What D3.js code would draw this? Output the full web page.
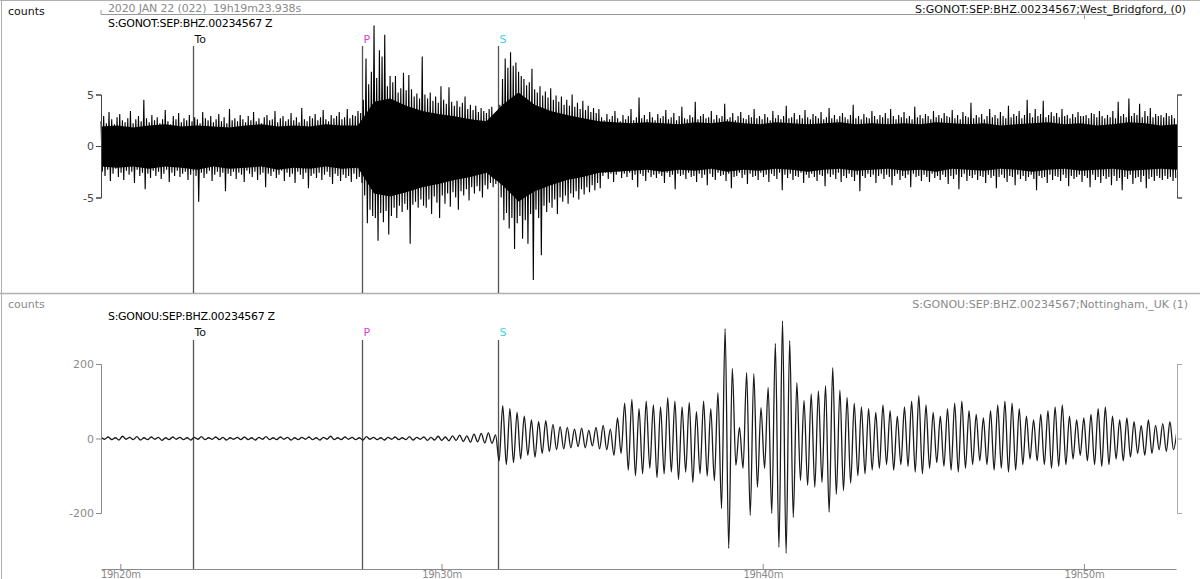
<!DOCTYPE html>
<html><head><meta charset="utf-8">
<script src="https://cdn.jsdelivr.net/npm/d3@7"></script>
<style>
body{margin:0;background:#fff}
svg{display:block;font-family:"DejaVu Sans",sans-serif}
text{white-space:pre}
</style>
</head><body>
<svg id="c" width="1200" height="579"></svg>
<script>
// ---------- data ----------
const startTime = "2020-01-22T19:19:23.938Z";
const endTime   = "2020-01-22T19:52:51.938Z";
const headerDate = "2020 JAN 22 (022)  19h19m23.938s";
const stations = ["S:GONOT:SEP:BHZ.00234567 Z", "S:GONOU:SEP:BHZ.00234567 Z"];
const stationInfo = ["S:GONOT:SEP:BHZ.00234567;West_Bridgford, (0)", "S:GONOU:SEP:BHZ.00234567;Nottingham,_UK (1)"];
const unitLabel = "counts";
const phaseNames = ["To", "P", "S"];
const phaseColors = ["#111", "#e03ce0", "#3cd2e6"];
const phaseTimes = ["2020-01-22T19:22:15.000Z", "2020-01-22T19:27:31.000Z", "2020-01-22T19:31:45.000Z"];
const headerTickTime = "2020-01-22T19:50:00.000Z";
const topTicks = [-5, 0, 5];
const bottomTicks = [-200, 0, 200];

// top trace (GONOT): max / min of each 5 s window
const topStep = 5;
const topHigh = [
2.4,2.9,2.2,3.3,2.6,2.1,2.8,3.1,2.5,2.3, 2.7,3.4,2.2,2.6,2.9,2.4,4.5,2.7,2.3,3.0,
2.5,2.8,2.2,2.6,3.5,2.4,2.1,2.9,2.6,3.2, 2.3,2.7,2.5,3.0,2.4,2.8,2.6,2.2,3.3,2.7,
2.5,2.9,2.3,2.6,3.1,2.4,2.8,2.2,3.6,2.5, 2.7,2.4,3.0,2.6,2.3,2.9,2.5,3.3,2.4,2.7,
2.2,2.8,3.0,2.5,2.6,3.4,2.3,2.7,2.9,2.4, 2.6,3.2,2.5,2.8,2.3,3.7,2.6,2.4,2.9,2.7,
3.1,2.5,2.8,3.5,2.6,2.4,3.0,2.7,2.9,3.3, 2.6,2.8,3.6,2.7,3.0,2.9,3.4,3.2,
4.5,8.5,6.0,7.2,11.7,6.6,9.3,8.7,10.8,5.8, 6.8,6.2,6.8,5.2,5.6,7.1,5.4,6.9,5.5,4.8, 5.1,4.6,8.7,
5.0,4.6,5.2,4.4,4.8,4.2,5.8,4.5,4.1,5.7, 4.3,3.9,4.4,3.8,4.2,4.8,3.6,4.0,3.5,3.9, 3.3,3.7,3.4,3.2,3.6,3.8,3.1,
3.2,4.0,6.5,8.5,7.6,9.1,7.8,8.1,7.2,6.8, 6.5,5.9,6.2,7.5,5.5,5.2,5.8,4.9,5.3,4.7,
5.6,4.5,4.9,4.3,4.8,4.0,4.5,3.9,5.0,3.8, 4.2,3.6,4.4,3.5,3.9,3.3,3.7,3.2,3.6,
2.8,2.5,3.1,2.6,2.9,3.4,2.7,2.4,3.0,2.6, 2.9,3.6,2.5,2.8,4.7,2.7,3.0,2.6,3.3,2.8,
2.5,3.1,2.7,2.9,3.5,2.6,2.8,3.2,2.5,2.9, 3.8,2.7,2.6,3.0,2.8,4.3,2.6,2.9,3.1,2.7,
2.8,3.4,2.6,3.0,2.7,2.9,4.1,2.6,2.8,3.2, 2.5,2.9,3.3,2.7,2.6,3.0,2.8,3.6,2.7,2.9,
2.6,3.1,2.8,2.5,3.4,2.7,3.0,2.6,2.9,3.9, 2.7,2.8,3.2,2.6,3.0,2.7,3.5,2.8,2.6,3.1,
2.9,2.7,3.3,2.6,2.8,3.7,2.7,3.0,2.6,2.9, 3.2,2.8,2.6,3.0,4.0,2.7,2.9,2.6,3.1,2.8,
2.7,3.4,2.9,2.6,3.0,2.8,3.2,2.7,3.6,2.9, 2.6,3.0,2.8,3.3,2.7,2.9,2.6,3.8,2.8,3.0,
2.7,3.1,2.9,2.6,3.4,2.8,3.0,2.7,3.2,2.9, 2.8,3.5,2.7,3.0,2.6,3.3,2.9,2.8,4.2,2.7,
3.0,2.8,3.1,2.6,2.9,3.6,2.8,3.0,2.7,3.3, 2.9,2.7,3.9,2.8,3.1,2.9,3.4,2.7,3.0,4.5,
3.2,2.8,3.6,2.9,3.1,4.4,2.8,3.0,3.3,2.9, 3.2,2.8,3.6,2.9,3.0,2.7,3.1,2.8,3.3,2.9,
2.9,3.0,2.7,3.2,3.1,2.8,3.4,2.9,2.7,3.0, 2.8,3.4,2.7,4.3,2.9,3.1,2.8,4.6,2.9,3.2,
3.0,4.1,2.8,3.4,2.9,3.7,2.8,3.1,2.9,3.0, 2.8,3.2,2.9,3.0,2.7];
const topLow = [
-2.5,-2.9,-2.3,-3.4,-2.7,-2.2,-3.0,-2.6,-3.3,-2.4, -2.8,-2.5,-3.6,-2.3,-2.9,-2.6,-4.2,-2.7,-3.1,-2.4,
-2.9,-2.5,-3.2,-2.7,-2.3,-3.5,-2.6,-2.9,-2.4,-3.0, -2.7,-2.5,-3.3,-2.8,-2.4,-2.9,-5.4,-2.6,-3.1,-2.7,
-2.4,-3.4,-2.8,-2.5,-3.0,-2.6,-4.4,-2.7,-2.9,-2.5, -3.2,-2.6,-2.8,-3.5,-2.4,-2.7,-3.0,-2.5,-3.3,-2.8,
-2.6,-4.0,-2.7,-2.9,-2.5,-3.1,-2.8,-2.4,-3.4,-2.6, -3.0,-2.7,-3.6,-2.5,-2.8,-3.2,-2.6,-4.1,-2.9,-2.7,
-3.1,-2.6,-3.3,-2.8,-2.5,-3.0,-3.7,-2.7,-2.9,-3.4, -2.8,-3.1,-2.9,-3.5,-2.7,-3.2,-3.0,-3.6,
-4.8,-7.5,-6.2,-6.8,-7.0,-9.2,-6.5,-7.4,-6.3,-8.6, -6.8,-6.0,-7.0,-5.8,-6.4,-5.6,-6.2,-9.5,-5.7,-5.4, -6.0,-5.2,-5.8,
-6.0,-5.2,-6.6,-4.9,-5.5,-7.0,-4.8,-5.6,-4.6,-5.9, -4.5,-5.0,-6.2,-4.4,-4.8,-4.2,-5.3,-4.0,-4.6,-3.9, -4.4,-5.0,-3.8,-4.2,-3.6,-4.0,-3.7,
-3.0,-5.0,-7.2,-6.5,-8.0,-7.0,-10.0,-7.5,-6.8,-9.0, -7.2,-9.5,-6.6,-13.0,-6.2,-7.0,-10.6,-5.8,-6.4,-5.5,
-6.0,-5.2,-6.6,-5.0,-5.4,-4.8,-5.6,-4.6,-5.0,-4.4, -5.2,-4.2,-4.7,-4.0,-4.5,-3.8,-4.3,-3.6,-4.1,
-2.9,-2.6,-3.2,-2.7,-3.5,-2.8,-2.5,-3.1,-2.7,-3.0, -2.6,-3.3,-2.8,-4.0,-2.7,-2.9,-3.4,-2.6,-3.0,-2.8,
-3.1,-2.7,-2.9,-3.6,-2.6,-3.0,-2.8,-4.2,-2.7,-2.9, -2.8,-3.2,-2.6,-3.0,-2.9,-3.5,-2.7,-3.1,-2.8,-3.8,
-2.7,-3.0,-3.3,-2.6,-2.9,-2.8,-3.4,-2.7,-4.1,-3.0, -2.9,-2.6,-3.1,-2.8,-3.7,-2.7,-3.0,-2.9,-3.3,-2.6,
-3.0,-2.8,-3.5,-2.7,-2.9,-3.2,-2.6,-4.3,-2.8,-3.1, -2.7,-3.3,-2.9,-3.0,-2.6,-3.6,-2.8,-3.1,-2.7,-3.0,
-3.4,-2.8,-2.9,-3.9,-2.7,-3.0,-2.8,-3.2,-2.6,-3.5, -2.9,-3.1,-2.7,-3.0,-3.4,-2.8,-4.4,-2.9,-3.1,-2.7,
-3.0,-2.8,-3.6,-2.9,-2.7,-3.2,-2.8,-3.0,-3.8,-2.9, -2.7,-3.3,-2.9,-3.1,-2.8,-4.0,-2.7,-3.0,-2.9,-3.4,
-2.8,-3.0,-3.5,-2.7,-3.1,-2.9,-3.3,-2.8,-3.0,-3.7, -2.9,-3.2,-2.8,-4.2,-3.0,-2.7,-3.4,-2.9,-3.1,-2.8,
-3.3,-2.9,-3.0,-3.6,-2.8,-3.1,-2.9,-4.1,-3.0,-2.8, -3.1,-3.5,-2.9,-3.0,-3.8,-2.8,-3.2,-2.9,-3.4,-3.0,
-2.8,-3.2,-4.3,-2.9,-3.1,-3.0,-3.6,-2.8,-3.3,-2.9, -3.0,-3.4,-2.8,-3.1,-3.9,-2.9,-3.2,-3.0,-2.8,-3.5,
-2.9,-3.1,-4.0,-2.8,-3.3,-3.0,-3.6,-2.9,-3.2,-3.0, -3.8,-2.9,-3.4,-3.1,-4.3,-3.0,-3.2,-2.8,-3.7,-3.1,
-3.0,-3.5,-2.9,-4.1,-3.2,-3.0,-3.4,-2.9,-3.1,-3.3, -2.9,-3.2,-3.0,-3.4,-3.1];
// top trace: band where the samples are densest, per 30 s
const coreStep = 30;
const coreHigh = [1.9,2.0,1.8,2.0,2.1,1.9,2.0,1.9,1.8,2.0,2.1,1.9,2.0,1.9,2.1,2.0,
2.0,4.3,4.6,3.9,3.4,3.1,2.9,2.6,2.4,4.0,5.2,4.0,3.4,3.0,2.7,2.4,2.3,
2.2,2.3,2.2,2.1,2.3,2.2,2.4,2.2,2.1,2.3,2.2,2.1,2.2,2.3,2.1,2.2,2.1,2.2,2.1,2.3,2.2,2.1,2.2,2.0,2.1,2.2,2.3,2.1,2.2,2.0,2.1,2.3,2.2,2.0,2.1];
const coreLow = [-2.0,-2.1,-2.0,-2.2,-2.0,-2.1,-2.3,-2.0,-2.2,-2.1,-2.0,-2.3,-2.1,-2.2,-2.0,-2.2,
-2.1,-4.6,-4.9,-4.5,-4.0,-3.7,-3.3,-3.0,-2.6,-3.8,-5.4,-4.4,-3.8,-3.3,-3.0,-2.6,-2.5,
-2.4,-2.3,-2.5,-2.3,-2.4,-2.2,-2.5,-2.3,-2.4,-2.2,-2.3,-2.5,-2.3,-2.2,-2.4,-2.3,-2.2,-2.4,-2.3,-2.5,-2.2,-2.3,-2.4,-2.2,-2.3,-2.5,-2.3,-2.2,-2.4,-2.3,-2.2,-2.4,-2.3,-2.2,-2.3];

// bottom trace (GONOU): successive peaks / troughs, one every 6.7 s
const bottomStep = 6.7;
const bottomValues = [3,-2,4,-3,2,-4,6,-2,3,-3,5,-4,2,-3,4,-2,3,-5,2,-3,
4,-2,3,-3,2,-4,3,-2,5,-3,2,-2,4,-3,3,-4,2,-2,3,-3,
4,-3,2,-4,3,-2,5,-3,2,-3,4,-2,3,-4,2,-3,3,-2,4,-3,
2,-4,3,-2,6,-3,2,-3,4,-2,3,-3,2,-4,5,-2,3,-3,2,-4,
3,-2,4,-3,2,-3,5,-4,3,-2,4,-5,3,-4,6,-5,4,-6,7,-5,
9,-8,7,-10,12,-9,14,-12,15,-13,10,
-60,88,-70,80,-65,70,-55,60,-45,50,-50,45,-40,48,-35,38,-30,32,-28,30,
-25,25,-22,28,-25,22,-20,30,-28,35,-30,25,-45,55,-40,95,-85,105,-100,80,
-95,100,-80,90,-105,85,-95,110,-90,100,-110,
85,-90,97,-118,72,-95,100,-101,80,-113,123,-188,295,-295,188,-72,30,-80,177,-206,
174,-131,83,-80,137,-201,255,-292,316,-308,263,-212,150,-113,102,-126,120,-131,128,-118,
142,-198,190,-150,130,-140,110,-120,95,-100,85,-95,80,-85,70,-80,90,-70,75,-85,
60,-70,85,-75,100,-90,115,-95,90,-80,70,-65,60,-75,80,-85,95,-90,100,-80,
75,-70,65,-60,55,-70,75,-85,90,-80,100,-90,95,-85,80,-70,60,-55,50,-60,
65,-70,75,-80,85,-75,90,-70,60,-55,50,-45,55,-60,65,-70,80,-75,85,-70,
60,-55,50,-60,55,-50,45,-40,35,-45,50,-40,35,-30,40,-35,45,-30,25];

// ---------- drawing ----------
const svg = d3.select("#c");
const t0 = new Date(startTime), t1 = new Date(endTime);
const at = s => new Date(t0.getTime() + s * 1000);
const x = d3.scaleUtc().domain([t0, t1]).range([101, 1176]);
const yT = d3.scaleLinear().domain([-5, 5]).range([197.5, 94.5]);
const yB = d3.scaleLinear().domain([-200, 200]).range([513, 364]);
const FS = 11;

// frame
const frame = svg.append("g").attr("stroke", "#b0b0b0").attr("fill", "none");
frame.append("line").attr("x1", 0).attr("x2", 1200).attr("y1", 0.5).attr("y2", 0.5);
frame.append("line").attr("x1", 1.5).attr("x2", 1.5).attr("y1", 0).attr("y2", 579);
frame.append("line").attr("x1", 0).attr("x2", 1200).attr("y1", 293.5).attr("y2", 293.5).attr("stroke-width", 1.5);

// header time line
const hdr = svg.append("g").attr("stroke", "#9a9a9a").attr("fill", "none");
hdr.append("line").attr("x1", x(t0)).attr("x2", x(t1)).attr("y1", 14.5).attr("y2", 14.5);
hdr.append("line").attr("x1", x(t0)).attr("x2", x(t0)).attr("y1", 10).attr("y2", 14.5);
const htx = Math.round(x(new Date(headerTickTime))) + 0.5;
hdr.append("line").attr("x1", htx).attr("x2", htx).attr("y1", 14.5).attr("y2", 19);

function text(g, s, xx, yy, opts = {}) {
  return g.append("text").attr("x", xx).attr("y", yy).text(s)
    .attr("font-size", opts.size || FS)
    .attr("fill", opts.fill || "#000")
    .attr("text-anchor", opts.anchor || "start")
    .attr("letter-spacing", opts.ls == null ? "-0.3px" : opts.ls + "px");
}
const T = svg.append("g");
text(T, unitLabel, 8, 15, {fill: "#111", ls: 0});
text(T, headerDate, 108, 11.5, {fill: "#8a8a8a", ls: -0.15});
text(T, stations[0], 108, 26.5);
text(T, stationInfo[0], x(t1) + 10, 12.5, {anchor: "end", fill: "#111", ls: 0});
text(T, unitLabel, 8, 307.5, {fill: "#8a8a8a", ls: 0});
text(T, stations[1], 108, 319.5);
text(T, stationInfo[1], x(t1) + 12, 307.5, {anchor: "end", fill: "#8a8a8a", ls: 0});

// phase markers
const panels = [{y0: 46, y1: 293, lab: 43}, {y0: 340, y1: 569, lab: 336}];
panels.forEach(p => {
  phaseNames.forEach((n, i) => {
    const px = Math.round(x(new Date(phaseTimes[i]))) + 0.5;
    svg.append("line").attr("x1", px).attr("x2", px).attr("y1", p.y0).attr("y2", p.y1)
      .attr("stroke", "#555").attr("stroke-width", 1.3);
    text(svg, n, px + 1, p.lab, {fill: phaseColors[i], ls: 0});
  });
});

// top trace: dense band + min/max zigzag per window
const coreData = coreHigh.map((h, j) => ({t: at(j * coreStep), h, l: coreLow[j]}));
svg.append("path").datum(coreData)
  .attr("d", d3.area().x(d => x(d.t)).y0(d => yT(d.l)).y1(d => yT(d.h)))
  .attr("fill", "#000");
const zig = [];
topHigh.forEach((h, i) => {
  zig.push([at(i * topStep), h]);
  zig.push([at(i * topStep + topStep / 2), topLow[i]]);
});
svg.append("path").datum(zig)
  .attr("d", d3.line().x(d => x(d[0])).y(d => yT(d[1])))
  .attr("fill", "none").attr("stroke", "#000").attr("stroke-width", 1.1);

// bottom trace
svg.append("defs").append("clipPath").attr("id", "clipB").append("rect")
  .attr("x", x(t0)).attr("y", 300).attr("width", x(t1) - x(t0)).attr("height", 270);
const bData = bottomValues.map((v, k) => [at(k * bottomStep), v]);
svg.append("path").datum(bData)
  .attr("clip-path", "url(#clipB)")
  .attr("d", d3.line().x(d => x(d[0])).y(d => yB(d[1])).curve(d3.curveMonotoneX))
  .attr("fill", "none").attr("stroke", "#1a1a1a").attr("stroke-width", 1.3);

// y axes
function styleAxis(g, col, fs) {
  g.selectAll("path,line").attr("stroke", col);
  g.selectAll("text").attr("fill", col).attr("font-size", fs || FS).attr("font-family", "DejaVu Sans");
}
const fmt = d => String(d);
svg.append("g").attr("transform", `translate(${x(t0)},0)`)
  .call(d3.axisLeft(yT).tickValues(topTicks).tickSize(5).tickPadding(2).tickFormat(fmt))
  .call(g => styleAxis(g, "#444"));
svg.append("g").attr("transform", `translate(${x(t1) + 1},0)`)
  .call(d3.axisRight(yT).tickValues(topTicks).tickSize(5).tickFormat(""))
  .call(g => styleAxis(g, "#555"));
svg.append("g").attr("transform", `translate(${x(t0)},0)`)
  .call(d3.axisLeft(yB).tickValues(bottomTicks).tickSize(5).tickPadding(2).tickFormat(fmt))
  .call(g => styleAxis(g, "#8a8a8a"));
svg.append("g").attr("transform", `translate(${x(t1) + 1},0)`)
  .call(d3.axisRight(yB).tickValues(bottomTicks).tickSize(5).tickFormat(""))
  .call(g => styleAxis(g, "#aaa"));

// time axis
svg.append("g").attr("transform", "translate(0,569)")
  .call(d3.axisBottom(x).ticks(d3.utcMinute.every(10)).tickSizeInner(-5).tickSizeOuter(0)
    .tickPadding(1.5).tickFormat(d3.utcFormat("%Hh%Mm")))
  .call(g => styleAxis(g, "#8a8a8a", 10))
  .call(g => g.selectAll("text").attr("letter-spacing", "-0.3px"));
</script>
</body></html>
